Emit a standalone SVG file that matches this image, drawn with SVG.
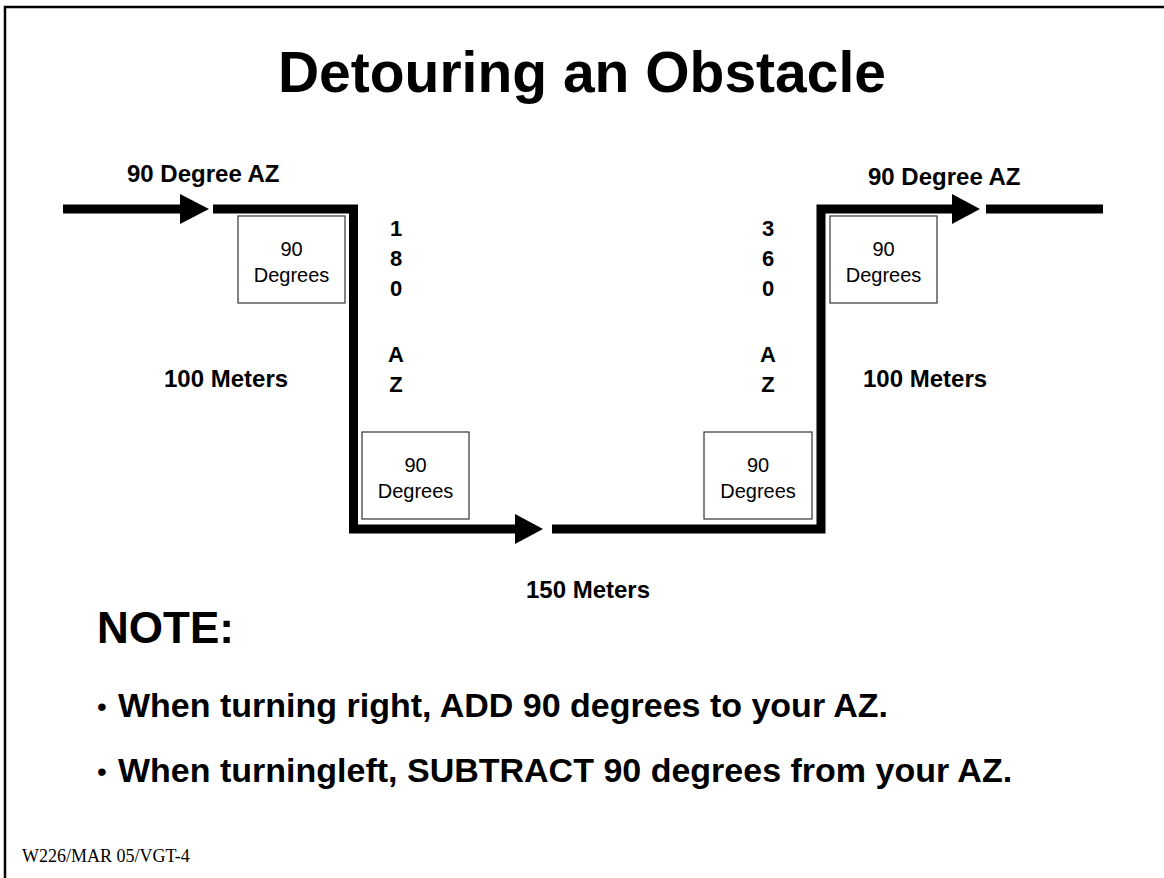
<svg xmlns="http://www.w3.org/2000/svg" width="1164" height="878" viewBox="0 0 1164 878">
<style>
.bold{font-family:"Liberation Sans",Arial,sans-serif;font-weight:bold;fill:#000}
.lbl{font-size:24px}
.vert{font-size:22px;text-anchor:middle}
.box rect{fill:#fff;stroke:#333;stroke-width:1.2}
.box text{font-family:"Liberation Sans",Arial,sans-serif;font-size:20px;text-anchor:middle;fill:#000}
.conn{fill:none;stroke:#000;stroke-width:9;stroke-linejoin:miter;stroke-linecap:butt}
.bul{font-family:"Liberation Sans",Arial,sans-serif;font-size:28px;fill:#000}
.note{font-size:34px}
</style>
<rect width="1164" height="878" fill="#fff"/>
<path d="M5,880 V7 H1170" fill="none" stroke="#000" stroke-width="2.5"/>
<text class="bold" x="582" y="92" font-size="57" text-anchor="middle">Detouring an Obstacle</text>

<g id="connectors">
<path class="conn" d="M63,209 H183"/>
<polygon points="180,194 209,209 180,224" fill="#000"/>
<path class="conn" d="M213,209 H353.5 V529 H518"/>
<polygon points="515,514 543,529 515,544" fill="#000"/>
<path class="conn" d="M552,529 H821 V209 H955"/>
<polygon points="952,194 980,209 952,224" fill="#000"/>
<path class="conn" d="M986,209 H1103"/>
</g>

<g id="box1" class="box"><rect x="238" y="216" width="107" height="87"/><text x="291.5" y="256">90</text><text x="291.5" y="282">Degrees</text></g>
<g id="box2" class="box"><rect x="362" y="432" width="107" height="87"/><text x="415.5" y="472">90</text><text x="415.5" y="498">Degrees</text></g>
<g id="box3" class="box"><rect x="704" y="432" width="108" height="87"/><text x="758" y="472">90</text><text x="758" y="498">Degrees</text></g>
<g id="box4" class="box"><rect x="830" y="216" width="107" height="87"/><text x="883.5" y="256">90</text><text x="883.5" y="282">Degrees</text></g>

<text class="bold lbl" x="127" y="182">90 Degree AZ</text>
<text class="bold lbl" x="868" y="185">90 Degree AZ</text>
<text class="bold lbl" x="164" y="387">100 Meters</text>
<text class="bold lbl" x="863" y="387">100 Meters</text>
<text class="bold lbl" x="588" y="598" text-anchor="middle">150 Meters</text>

<g class="bold vert">
<text x="396" y="236">1</text><text x="396" y="266">8</text><text x="396" y="296">0</text>
<text x="396" y="362">A</text><text x="396" y="392">Z</text>
<text x="768" y="236">3</text><text x="768" y="266">6</text><text x="768" y="296">0</text>
<text x="768" y="362">A</text><text x="768" y="392">Z</text>
</g>

<text class="bold" x="97" y="643" font-size="44">NOTE:</text>
<text class="bul" x="97" y="716">•</text>
<text class="bold note" x="118" y="717">When turning right, ADD 90 degrees to your AZ.</text>
<text class="bul" x="97" y="781">•</text>
<text class="bold note" x="118" y="782">When turningleft, SUBTRACT 90 degrees from your AZ.</text>

<text x="22" y="862" font-family="Liberation Serif,'Times New Roman',serif" font-size="18" fill="#000">W226/MAR 05/VGT-4</text>
</svg>
